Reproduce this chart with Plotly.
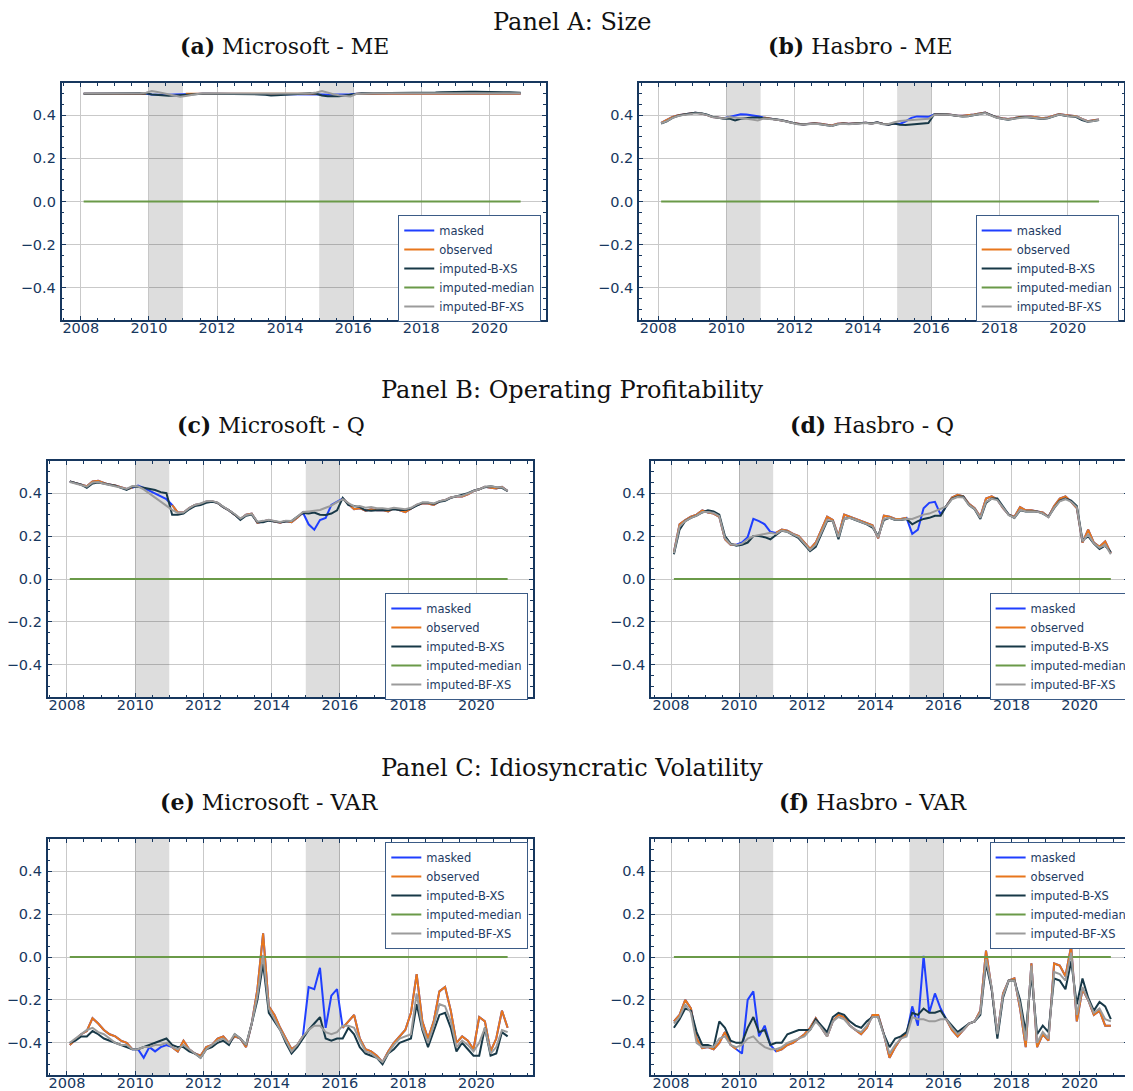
import plotly.graph_objects as go

# page body has an 8px default margin; the figure is sized to fill the window
PAGE_OFF = 8
W, H = 1133 - PAGE_OFF, 1091 - PAGE_OFF

# ---------------- data ----------------
N = 78  # bi-monthly observations, Feb 2008 ... Dec 2020
years = [2008 + (2 * k + 1) / 12 for k in range(N)]
MASK_WINDOWS = [(2010.0, 2011.0), (2015.0, 2016.0)]
Y_RANGE = [-0.55, 0.55]

series_names = ["masked", "observed", "imputed-B-XS", "imputed-median", "imputed-BF-XS"]
series_colors = ["#1f3fff", "#e8761c", "#173847", "#6a9a48", "#9b9b9b"]

x_tick_vals = [2008, 2010, 2012, 2014, 2016, 2018, 2020]
x_tick_text = ["2008", "2010", "2012", "2014", "2016", "2018", "2020"]
y_tick_vals = [-0.4, -0.2, 0.0, 0.2, 0.4]
y_tick_text = ["\u22120.4", "\u22120.2", "0.0", "0.2", "0.4"]

median_vals = [0.0] * N

# (a) Microsoft - ME
a_masked = [
    .500, .500, .501, .500, .500, .500,
    .500, .501, .500, .500, .500, .500,
    .497, .496, .495, .496, .497, .498,
    .500, .500, .500, .500, .500, .500,
    .500, .500, .500, .500, .500, .500,
    .500, .500, .500, .500, .500, .500,
    .500, .500, .500, .500, .500, .500,
    .497, .496, .496, .497, .497, .498,
    .500, .500, .500, .500, .500, .500,
    .500, .500, .500, .500, .500, .500,
    .500, .500, .500, .500, .500, .500,
    .500, .500, .500, .500, .500, .500,
    .500, .500, .500, .500, .500, .500]
a_bxs = [
    .500, .500, .501, .501, .500, .500,
    .500, .501, .500, .500, .500, .502,
    .497, .494, .492, .491, .492, .494,
    .497, .499, .500, .500, .500, .500,
    .500, .500, .500, .500, .499, .499,
    .498, .497, .495, .492, .493, .495,
    .497, .498, .500, .500, .502, .500,
    .492, .489, .487, .488, .492, .496,
    .502, .503, .503, .503, .504, .504,
    .504, .504, .505, .505, .505, .505,
    .505, .506, .506, .507, .508, .508,
    .508, .509, .509, .509, .508, .508,
    .508, .508, .507, .507, .506, .505]
a_bfxs = [
    .501, .501, .502, .501, .501, .501,
    .501, .502, .501, .501, .502, .505,
    .513, .508, .502, .496, .490, .486,
    .490, .496, .499, .501, .501, .501,
    .501, .501, .501, .501, .501, .501,
    .501, .500, .499, .498, .499, .500,
    .501, .501, .501, .501, .503, .506,
    .513, .505, .498, .493, .489, .487,
    .499, .501, .502, .502, .502, .502,
    .502, .502, .502, .503, .503, .503,
    .503, .503, .503, .503, .503, .503,
    .503, .503, .503, .503, .503, .503,
    .503, .503, .503, .503, .503, .503]

# (b) Hasbro - ME
b_masked = [
    .365, .377, .392, .400, .404, .408,
    .412, .408, .402, .392, .388, .386,
    .392, .398, .405, .404, .401, .396,
    .390, .386, .383, .378, .372, .365,
    .361, .358, .361, .363, .361, .356,
    .353, .361, .363, .361, .363, .366,
    .366, .362, .367, .361, .358, .362,
    .360, .372, .388, .395, .395, .393,
    .404, .406, .405, .403, .398, .398,
    .400, .404, .409, .413, .401, .391,
    .386, .383, .387, .392, .393, .394,
    .391, .386, .390, .397, .406, .401,
    .397, .396, .383, .373, .377, .381]
b_bxs = [
    .362, .372, .388, .398, .404, .408,
    .412, .410, .404, .394, .388, .384,
    .385, .376, .384, .388, .390, .390,
    .388, .385, .382, .378, .372, .364,
    .360, .357, .360, .362, .359, .355,
    .350, .358, .362, .360, .362, .366,
    .366, .362, .368, .360, .356, .362,
    .356, .355, .357, .360, .362, .364,
    .404, .406, .405, .402, .398, .395,
    .396, .400, .406, .412, .402, .390,
    .384, .380, .384, .390, .392, .390,
    .388, .383, .386, .394, .404, .398,
    .394, .392, .378, .370, .374, .378]
b_bfxs = [
    .363, .373, .388, .397, .402, .405,
    .409, .408, .402, .392, .387, .385,
    .392, .390, .386, .384, .380, .376,
    .385, .384, .381, .377, .371, .364,
    .359, .357, .359, .361, .359, .355,
    .351, .359, .361, .359, .361, .364,
    .364, .361, .365, .359, .360, .368,
    .374, .376, .378, .380, .380, .384,
    .401, .404, .404, .401, .397, .395,
    .397, .401, .407, .411, .399, .389,
    .384, .381, .384, .389, .391, .391,
    .389, .384, .387, .394, .404, .399,
    .394, .394, .381, .371, .374, .379]

# (c) Microsoft - Q
c_masked = [
    .455, .448, .440, .432, .455, .458,
    .448, .440, .436, .428, .420, .425,
    .435, .425, .412, .400, .385, .372,
    .345, .310, .310, .330, .345, .350,
    .360, .362, .355, .335, .320, .300,
    .280, .300, .305, .262, .270, .275,
    .268, .262, .270, .265, .285, .310,
    .255, .230, .275, .285, .345, .360,
    .375, .350, .325, .330, .318, .325,
    .320, .322, .315, .330, .320, .312,
    .328, .345, .352, .352, .345, .362,
    .368, .380, .385, .385, .395, .410,
    .418, .430, .425, .422, .430, .410]
c_bxs = [
    .455, .448, .440, .425, .445, .450,
    .445, .440, .435, .425, .415, .430,
    .430, .425, .420, .415, .405, .400,
    .300, .300, .305, .325, .340, .345,
    .355, .360, .355, .335, .320, .300,
    .275, .295, .300, .265, .265, .272,
    .268, .265, .268, .270, .290, .308,
    .305, .310, .300, .298, .305, .320,
    .378, .345, .340, .335, .320, .318,
    .320, .322, .320, .325, .322, .322,
    .328, .342, .355, .355, .350, .360,
    .365, .378, .385, .390, .400, .412,
    .418, .428, .432, .428, .425, .410]
c_bfxs = [
    .452, .445, .436, .430, .450, .452,
    .444, .438, .433, .425, .420, .433,
    .432, .418, .398, .378, .360, .342,
    .322, .308, .310, .330, .345, .352,
    .362, .364, .356, .337, .322, .303,
    .282, .298, .303, .267, .271, .276,
    .270, .266, .272, .270, .290, .312,
    .315, .318, .322, .332, .342, .358,
    .372, .354, .338, .340, .332, .335,
    .330, .330, .326, .332, .330, .325,
    .332, .347, .357, .357, .352, .363,
    .368, .380, .386, .388, .398, .410,
    .418, .430, .432, .428, .428, .410]

# (d) Hasbro - Q
d_masked = [
    .125, .255, .275, .290, .300, .320,
    .310, .305, .290, .185, .160, .160,
    .170, .195, .280, .270, .255, .220,
    .215, .230, .225, .210, .200, .170,
    .140, .170, .230, .290, .275, .200,
    .300, .290, .280, .270, .260, .250,
    .190, .295, .290, .280, .280, .285,
    .210, .230, .330, .355, .360, .300,
    .340, .380, .392, .385, .350, .330,
    .290, .375, .385, .370, .330, .300,
    .290, .335, .320, .320, .315, .310,
    .290, .340, .375, .385, .360, .330,
    .170, .230, .170, .150, .175, .120]
d_bxs = [
    .115, .230, .270, .285, .295, .310,
    .320, .315, .300, .200, .165, .155,
    .160, .170, .200, .200, .195, .185,
    .205, .225, .220, .205, .190, .160,
    .130, .150, .210, .270, .270, .185,
    .280, .285, .275, .265, .255, .240,
    .200, .275, .285, .275, .275, .280,
    .255, .270, .280, .285, .295, .295,
    .340, .375, .385, .385, .345, .325,
    .280, .355, .375, .375, .335, .300,
    .285, .320, .315, .315, .315, .305,
    .290, .330, .365, .375, .365, .340,
    .180, .200, .165, .140, .155, .125]
d_bfxs = [
    .120, .245, .270, .285, .295, .312,
    .312, .308, .293, .190, .162, .158,
    .165, .185, .200, .205, .210, .215,
    .210, .226, .220, .206, .195, .165,
    .135, .160, .215, .275, .270, .195,
    .280, .285, .276, .266, .256, .245,
    .195, .280, .285, .276, .276, .281,
    .280, .290, .300, .305, .315, .325,
    .338, .372, .382, .380, .345, .326,
    .285, .360, .374, .368, .330, .298,
    .286, .322, .316, .316, .313, .306,
    .288, .332, .362, .372, .360, .335,
    .175, .208, .166, .145, .160, .115]

# (e) Microsoft - VAR
e_masked = [
    -.410, -.385, -.360, -.345, -.285, -.310,
    -.340, -.360, -.370, -.390, -.400, -.430,
    -.430, -.470, -.420, -.440, -.420, -.410,
    -.420, -.440, -.390, -.430, -.450, -.460,
    -.420, -.410, -.380, -.370, -.400, -.370,
    -.380, -.420, -.310, -.150, .110, -.230,
    -.270, -.330, -.380, -.430, -.410, -.370,
    -.140, -.150, -.050, -.330, -.180, -.150,
    -.330, -.300, -.270, -.380, -.430, -.440,
    -.460, -.490, -.440, -.400, -.370, -.340,
    -.260, -.080, -.300, -.380, -.300, -.160,
    -.140, -.250, -.400, -.370, -.390, -.430,
    -.280, -.300, -.440, -.380, -.250, -.330]
e_bxs = [
    -.400, -.390, -.370, -.370, -.345, -.360,
    -.380, -.390, -.400, -.410, -.420, -.430,
    -.430, -.420, -.410, -.400, -.390, -.380,
    -.410, -.420, -.420, -.440, -.450, -.470,
    -.430, -.420, -.400, -.390, -.410, -.360,
    -.380, -.410, -.310, -.200, -.030, -.260,
    -.300, -.340, -.400, -.450, -.420, -.380,
    -.340, -.310, -.280, -.380, -.390, -.380,
    -.380, -.330, -.360, -.420, -.450, -.460,
    -.470, -.500, -.450, -.430, -.400, -.390,
    -.380, -.220, -.340, -.420, -.340, -.270,
    -.260, -.330, -.440, -.400, -.430, -.460,
    -.460, -.330, -.460, -.450, -.350, -.370]
e_bfxs = [
    -.400, -.380, -.360, -.340, -.330, -.350,
    -.360, -.380, -.400, -.410, -.410, -.430,
    -.430, -.420, -.420, -.410, -.410, -.400,
    -.420, -.430, -.410, -.430, -.450, -.470,
    -.430, -.410, -.390, -.380, -.400, -.360,
    -.380, -.410, -.310, -.180, .010, -.240,
    -.290, -.340, -.390, -.440, -.410, -.370,
    -.340, -.320, -.320, -.350, -.360, -.350,
    -.320, -.320, -.330, -.390, -.440, -.450,
    -.470, -.490, -.450, -.410, -.380, -.370,
    -.360, -.170, -.330, -.400, -.320, -.220,
    -.230, -.300, -.420, -.390, -.410, -.440,
    -.400, -.330, -.450, -.420, -.340, -.350]

# (f) Hasbro - VAR
f_masked = [
    -.300, -.270, -.200, -.240, -.380, -.425,
    -.420, -.430, -.400, -.350, -.410, -.430,
    -.450, -.200, -.160, -.370, -.320, -.410,
    -.440, -.430, -.410, -.400, -.380, -.360,
    -.330, -.285, -.330, -.370, -.300, -.270,
    -.280, -.320, -.340, -.360, -.330, -.270,
    -.270, -.360, -.470, -.420, -.380, -.360,
    -.230, -.320, .005, -.260, -.170, -.240,
    -.290, -.340, -.370, -.340, -.310, -.300,
    -.250, .030, -.150, -.360, -.170, -.110,
    -.100, -.240, -.420, -.030, -.420, -.360,
    -.390, -.030, -.040, -.090, .050, -.300,
    -.150, -.200, -.270, -.250, -.320, -.320]
f_bxs = [
    -.330, -.290, -.240, -.250, -.350, -.410,
    -.410, -.420, -.300, -.330, -.390, -.400,
    -.400, -.330, -.280, -.350, -.340, -.410,
    -.400, -.400, -.360, -.350, -.340, -.340,
    -.340, -.290, -.320, -.350, -.280, -.260,
    -.270, -.300, -.320, -.330, -.300, -.280,
    -.280, -.360, -.420, -.380, -.370, -.350,
    -.260, -.270, -.240, -.260, -.260, -.250,
    -.290, -.320, -.350, -.330, -.310, -.300,
    -.270, -.030, -.150, -.380, -.190, -.110,
    -.110, -.200, -.350, -.080, -.360, -.320,
    -.350, -.100, -.110, -.150, -.020, -.220,
    -.100, -.190, -.250, -.210, -.230, -.290]
f_bfxs = [
    -.310, -.280, -.220, -.260, -.400, -.420,
    -.420, -.420, -.380, -.370, -.410, -.420,
    -.410, -.380, -.370, -.400, -.420, -.430,
    -.430, -.420, -.400, -.390, -.380, -.370,
    -.340, -.300, -.330, -.370, -.300, -.280,
    -.290, -.320, -.340, -.350, -.320, -.280,
    -.280, -.360, -.450, -.410, -.380, -.370,
    -.280, -.290, -.290, -.300, -.300, -.290,
    -.290, -.330, -.360, -.340, -.310, -.300,
    -.260, -.010, -.140, -.360, -.180, -.110,
    -.110, -.220, -.390, -.040, -.400, -.350,
    -.380, -.070, -.080, -.110, .020, -.270,
    -.140, -.200, -.260, -.240, -.290, -.300]

panel_titles = ["Panel A: Size", "Panel B: Operating Profitability",
                "Panel C: Idiosyncratic Volatility"]
subplot_titles = ["<b>(a)</b> Microsoft - ME", "<b>(b)</b> Hasbro - ME",
                  "<b>(c)</b> Microsoft - Q", "<b>(d)</b> Hasbro - Q",
                  "<b>(e)</b> Microsoft - VAR", "<b>(f)</b> Hasbro - VAR"]

panel_data = [
    (a_masked, a_bxs, a_bfxs),
    (b_masked, b_bxs, b_bfxs),
    (c_masked, c_bxs, c_bfxs),
    (d_masked, d_bxs, d_bfxs),
    (e_masked, e_bxs, e_bfxs),
    (f_masked, f_bxs, f_bfxs),
]

# ---------------- layout (window pixel geometry) ----------------
NAVY = "#17375e"
GRID = "#c9c9c9"

# plot frames: left, top, right, bottom (window px)
frames = [(62, 83, 548, 320), (642, 83, 1129, 320),
          (48, 461, 535, 697), (654, 461, 1133, 697),
          (48, 839, 535, 1075), (654, 839, 1133, 1075)]
x_ranges = [[2007.44, 2021.65], [2007.44, 2021.65],
            [2007.44, 2021.65], [2007.415, 2021.42],
            [2007.44, 2021.65], [2007.415, 2021.42]]
legend_px = [(400, 215), (980, 215), (387, 593), (994, 593), (387, 842), (994, 842)]
subtitle_px = [(286, 46), (864, 46), (272, 425), (876, 425), (271, 802), (877, 802)]
panel_title_px = [(575, 22), (575, 390), (575, 768)]


def px_x(v):
    return (v - PAGE_OFF) / W


def px_y(v):
    return 1 - (v - PAGE_OFF) / H


def observed_from(vals):
    out = []
    for x, v in zip(years, vals):
        inside = any(lo < x < hi for lo, hi in MASK_WINDOWS)
        out.append(None if inside else v)
    return out


fig = go.Figure()
layout = dict(
    width=W, height=H,
    margin=dict(l=0, r=0, t=0, b=0),
    paper_bgcolor="white", plot_bgcolor="white",
    font=dict(family="DejaVu Sans", color=NAVY),
    showlegend=True,
)
annotations = []

for i, (masked, bxs, bfxs) in enumerate(panel_data):
    n = i + 1
    xa = "x" if n == 1 else f"x{n}"
    ya = "y" if n == 1 else f"y{n}"
    lg = "legend" if n == 1 else f"legend{n}"
    # shaded masking windows (drawn as traces so they sit above the grid)
    for lo, hi in MASK_WINDOWS:
        fig.add_trace(go.Scatter(
            x=[lo, hi, hi, lo, lo],
            y=[Y_RANGE[0], Y_RANGE[0], Y_RANGE[1], Y_RANGE[1], Y_RANGE[0]],
            mode="lines", fill="toself", fillcolor="rgba(0,0,0,0.135)",
            line=dict(width=0), showlegend=False, hoverinfo="skip",
            xaxis=xa, yaxis=ya))
    ys = [masked, observed_from(masked), bxs, median_vals, bfxs]
    for name, color, yv in zip(series_names, series_colors, ys):
        fig.add_trace(go.Scatter(
            x=years, y=yv, name=name, mode="lines",
            line=dict(color=color, width=2.0),
            xaxis=xa, yaxis=ya, legend=lg, connectgaps=False,
            hoverinfo="skip"))
    l, t, r, b = frames[i]
    layout[f"xaxis{'' if n == 1 else n}"] = dict(
        domain=[px_x(l), min(1.0, px_x(r))], anchor=ya, range=x_ranges[i],
        tickmode="array", tickvals=x_tick_vals, ticktext=x_tick_text,
        ticks="inside", ticklen=4, tickwidth=1.3, tickcolor=NAVY,
        showline=True, linecolor=NAVY, linewidth=2, mirror="ticks",
        showgrid=True, gridcolor=GRID, gridwidth=1, zeroline=False,
        tickfont=dict(family="DejaVu Sans", size=14.5, color=NAVY),
        ticklabelstandoff=-6,
        minor=dict(ticks="inside", ticklen=2.5, tickwidth=1, tickcolor=NAVY,
                   dtick=0.5, tick0=2008, showgrid=False),
    )
    layout[f"yaxis{'' if n == 1 else n}"] = dict(
        domain=[px_y(b), px_y(t)], anchor=xa, range=Y_RANGE,
        tickmode="array", tickvals=y_tick_vals, ticktext=y_tick_text,
        ticks="inside", ticklen=4, tickwidth=1.3, tickcolor=NAVY,
        showline=True, linecolor=NAVY, linewidth=2, mirror="ticks",
        showgrid=True, gridcolor=GRID, gridwidth=1, zeroline=False,
        tickfont=dict(family="DejaVu Sans", size=14.5, color=NAVY),
        ticklabelstandoff=1,
        minor=dict(ticks="inside", ticklen=2.5, tickwidth=1, tickcolor=NAVY,
                   dtick=0.05, tick0=0, showgrid=False),
    )
    lx, ly = legend_px[i]
    layout[lg] = dict(
        x=px_x(lx), y=px_y(ly), xanchor="left", yanchor="top",
        xref="paper", yref="paper",
        bgcolor="white", bordercolor="#3b5b86", borderwidth=1,
        font=dict(family="DejaVu Sans", size=11.5, color="#1e3b63"),
        itemwidth=30, tracegroupgap=0,
    )
    sx, sy = subtitle_px[i]
    annotations.append(dict(text=subplot_titles[i], x=px_x(sx), y=px_y(sy),
                            xref="paper", yref="paper", showarrow=False,
                            xanchor="center", yanchor="middle",
                            font=dict(family="DejaVu Serif", size=22, color="#111111")))

for txt, (px, py) in zip(panel_titles, panel_title_px):
    annotations.append(dict(text=txt, x=px_x(px), y=px_y(py),
                            xref="paper", yref="paper", showarrow=False,
                            xanchor="center", yanchor="middle",
                            font=dict(family="DejaVu Serif", size=24, color="#111111")))

layout["annotations"] = annotations
fig.update_layout(**layout)
fig.write_html("out.html")
